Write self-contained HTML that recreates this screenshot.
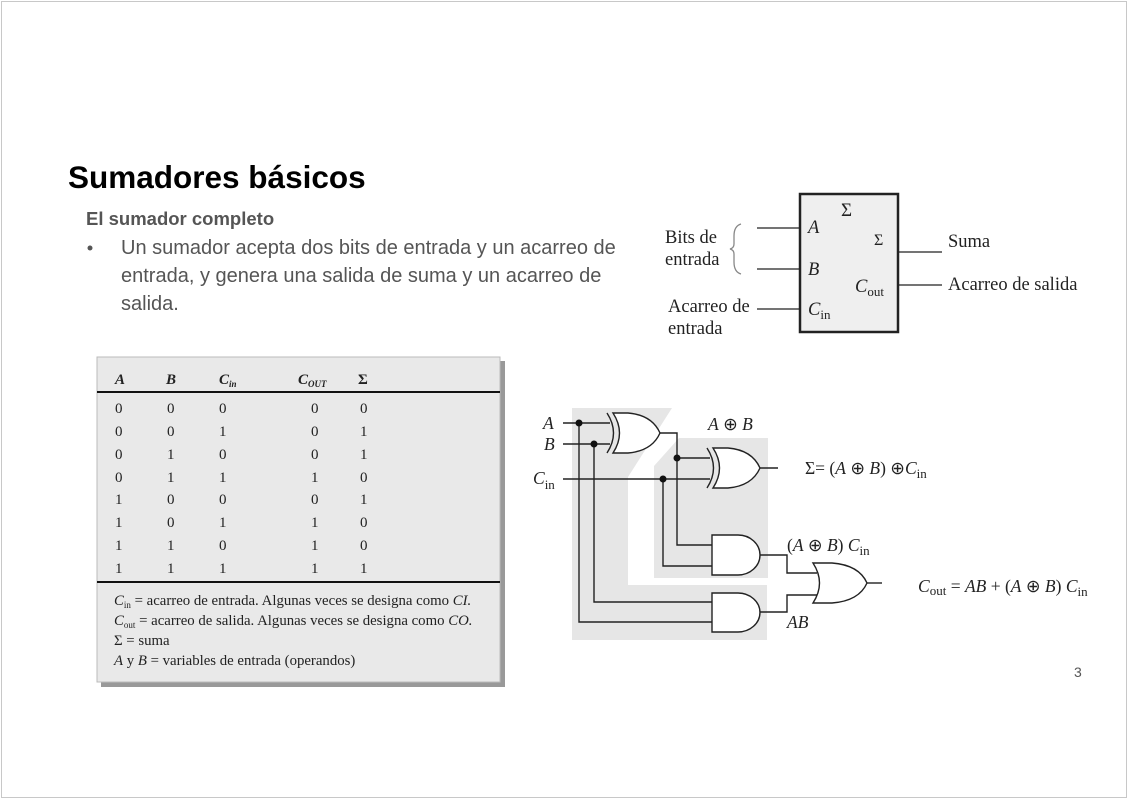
<!DOCTYPE html>
<html><head><meta charset="utf-8"><style>
body{margin:0;width:1128px;height:800px;background:#fff;overflow:hidden}
svg{position:absolute;left:0;top:0}
.s{font-family:"Liberation Serif",serif;fill:#222}
.i{font-style:italic}
</style></head><body>
<svg width="1128" height="800" viewBox="0 0 1128 800">
<rect x="1.5" y="1.5" width="1125" height="796" fill="none" stroke="#c8c8c8"/>
<g font-family="Liberation Sans,sans-serif">
<text x="68" y="188" font-size="31.5" font-weight="bold" fill="#000">Sumadores básicos</text>
<text x="86" y="225" font-size="18.5" font-weight="bold" fill="#555">El sumador completo</text>
<circle cx="90" cy="248" r="2.5" fill="#555"/>
<g font-size="20" fill="#555">
<text x="121" y="254">Un sumador acepta dos bits de entrada y un acarreo de</text>
<text x="121" y="282">entrada, y genera una salida de suma y un acarreo de</text>
<text x="121" y="310">salida.</text>
</g>
<text x="1074" y="677" font-size="14" fill="#555">3</text>
</g>

<!-- table -->
<rect x="101" y="361" width="404" height="326" fill="#999"/>
<rect x="97" y="357" width="403" height="325" fill="#e9e9e9" stroke="#bbb"/>
<g class="s" font-size="15">
<g font-weight="bold" class="i"><text x="115" y="384">A</text><text x="166" y="384">B</text><text x="219" y="384">C<tspan font-size="9" dy="3">in</tspan></text><text x="298" y="384">C<tspan font-size="9" dy="3">OUT</tspan></text><text x="358" y="384" font-style="normal">Σ</text></g>
<line x1="97" y1="392" x2="500" y2="392" stroke="#111" stroke-width="2"/>
<line x1="97" y1="582" x2="500" y2="582" stroke="#111" stroke-width="2"/>
<g>
<text y="413"><tspan x="115">0</tspan><tspan x="167">0</tspan><tspan x="219">0</tspan><tspan x="311">0</tspan><tspan x="360">0</tspan></text>
<text y="436"><tspan x="115">0</tspan><tspan x="167">0</tspan><tspan x="219">1</tspan><tspan x="311">0</tspan><tspan x="360">1</tspan></text>
<text y="459"><tspan x="115">0</tspan><tspan x="167">1</tspan><tspan x="219">0</tspan><tspan x="311">0</tspan><tspan x="360">1</tspan></text>
<text y="482"><tspan x="115">0</tspan><tspan x="167">1</tspan><tspan x="219">1</tspan><tspan x="311">1</tspan><tspan x="360">0</tspan></text>
<text y="504"><tspan x="115">1</tspan><tspan x="167">0</tspan><tspan x="219">0</tspan><tspan x="311">0</tspan><tspan x="360">1</tspan></text>
<text y="527"><tspan x="115">1</tspan><tspan x="167">0</tspan><tspan x="219">1</tspan><tspan x="311">1</tspan><tspan x="360">0</tspan></text>
<text y="550"><tspan x="115">1</tspan><tspan x="167">1</tspan><tspan x="219">0</tspan><tspan x="311">1</tspan><tspan x="360">0</tspan></text>
<text y="573"><tspan x="115">1</tspan><tspan x="167">1</tspan><tspan x="219">1</tspan><tspan x="311">1</tspan><tspan x="360">1</tspan></text>
</g>
<g font-size="14.8">
<text x="114" y="605"><tspan class="i">C</tspan><tspan font-size="9" dy="3">in</tspan><tspan dy="-3"> = acarreo de entrada. Algunas veces se designa como </tspan><tspan class="i">CI.</tspan></text>
<text x="114" y="625"><tspan class="i">C</tspan><tspan font-size="9" dy="3">out</tspan><tspan dy="-3"> = acarreo de salida. Algunas veces se designa como </tspan><tspan class="i">CO.</tspan></text>
<text x="114" y="645">Σ = suma</text>
<text x="114" y="665"><tspan class="i">A</tspan> y <tspan class="i">B</tspan> = variables de entrada (operandos)</text>
</g>
</g>

<!-- block diagram -->
<g stroke="#222" stroke-width="1.3" fill="none">
<rect x="800" y="194" width="98" height="138" fill="#efefef" stroke-width="2.5"/>
<line x1="757" y1="228" x2="800" y2="228"/><line x1="757" y1="269" x2="800" y2="269"/><line x1="757" y1="309" x2="800" y2="309"/>
<line x1="898" y1="252" x2="942" y2="252"/><line x1="898" y1="285" x2="942" y2="285"/>
<path d="M741,224 Q734,226 734,236 L734,244 Q734,248 730,249 Q734,250 734,254 L734,262 Q734,272 741,274" stroke="#888"/>
</g>
<g class="s" font-size="18.5">
<text x="665" y="243">Bits de</text><text x="665" y="265">entrada</text>
<text x="668" y="312">Acarreo de</text><text x="668" y="334">entrada</text>
<text x="948" y="247">Suma</text><text x="948" y="290">Acarreo de salida</text>
<text x="841" y="216" font-size="19">Σ</text>
<text x="874" y="245" font-size="16">Σ</text>
<text x="808" y="233" class="i">A</text><text x="808" y="275" class="i">B</text>
<text x="808" y="315"><tspan class="i">C</tspan><tspan font-size="13" dy="4">in</tspan></text>
<text x="855" y="292"><tspan class="i">C</tspan><tspan font-size="13" dy="4">out</tspan></text>
</g>

<!-- circuit -->
<polygon points="572,408 672,408 628,477 628,585 767,585 767,640 572,640" fill="#e6e6e6"/>
<polygon points="679,438 768,438 768,578 654,578 654,466" fill="#e6e6e6"/>
<g stroke="#222" stroke-width="1.4" fill="none">
<line x1="563" y1="423" x2="610" y2="423"/><line x1="563" y1="444" x2="610" y2="444"/>
<line x1="563" y1="479" x2="710" y2="479"/>
<polyline points="660,433 677,433 677,545 712,545"/><line x1="677" y1="458" x2="710" y2="458"/>
<polyline points="663,479 663,566 712,566"/>
<polyline points="594,444 594,602 712,602"/>
<polyline points="579,423 579,622 712,622"/>
<polyline points="760,555 787,555 787,573 817,573"/>
<polyline points="760,612 787,612 787,595 817,595"/>
<line x1="760" y1="468" x2="778" y2="468"/><line x1="867" y1="583" x2="882" y2="583"/>
<path d="M607,413 Q620,433 607,453"/>
<path d="M613,413 L628,413 Q652,415 660,433 Q652,451 628,453 L613,453 Q626,433 613,413Z" fill="#fff"/>
<path d="M707,448 Q720,468 707,488"/>
<path d="M713,448 L728,448 Q752,450 760,468 Q752,486 728,488 L713,488 Q726,468 713,448Z" fill="#fff"/>
<path d="M712,535 L738,535 A22,20 0 0 1 738,575 L712,575Z" fill="#fff"/>
<path d="M712,593 L738,593 A22,19.5 0 0 1 738,632 L712,632Z" fill="#fff"/>
<path d="M813,563 L832,563 Q859,565 867,583 Q859,601 832,603 L813,603 Q826,583 813,563Z" fill="#fff"/>
</g>
<g fill="#111">
<circle cx="579" cy="423" r="3.5"/><circle cx="594" cy="444" r="3.5"/><circle cx="677" cy="458" r="3.5"/><circle cx="663" cy="479" r="3.5"/>
</g>
<g class="s" font-size="17.5">
<text x="543" y="429" class="i">A</text><text x="544" y="450" class="i">B</text>
<text x="533" y="484"><tspan class="i">C</tspan><tspan font-size="13" dy="5">in</tspan></text>
<text x="708" y="430"><tspan class="i">A</tspan> ⊕ <tspan class="i">B</tspan></text>
<text x="805" y="474">Σ= (<tspan class="i">A</tspan> ⊕ <tspan class="i">B</tspan>) ⊕<tspan class="i">C</tspan><tspan font-size="13" dy="4">in</tspan></text>
<text x="787" y="551">(<tspan class="i">A</tspan> ⊕ <tspan class="i">B</tspan>) <tspan class="i">C</tspan><tspan font-size="13" dy="4">in</tspan></text>
<text x="787" y="628" class="i">AB</text>
<text x="918" y="592"><tspan class="i">C</tspan><tspan font-size="13" dy="3">out</tspan><tspan dy="-3"> = </tspan><tspan class="i">AB</tspan> + (<tspan class="i">A</tspan> ⊕ <tspan class="i">B</tspan>) <tspan class="i">C</tspan><tspan font-size="13" dy="4">in</tspan></text>
</g>
</svg>
</body></html>
